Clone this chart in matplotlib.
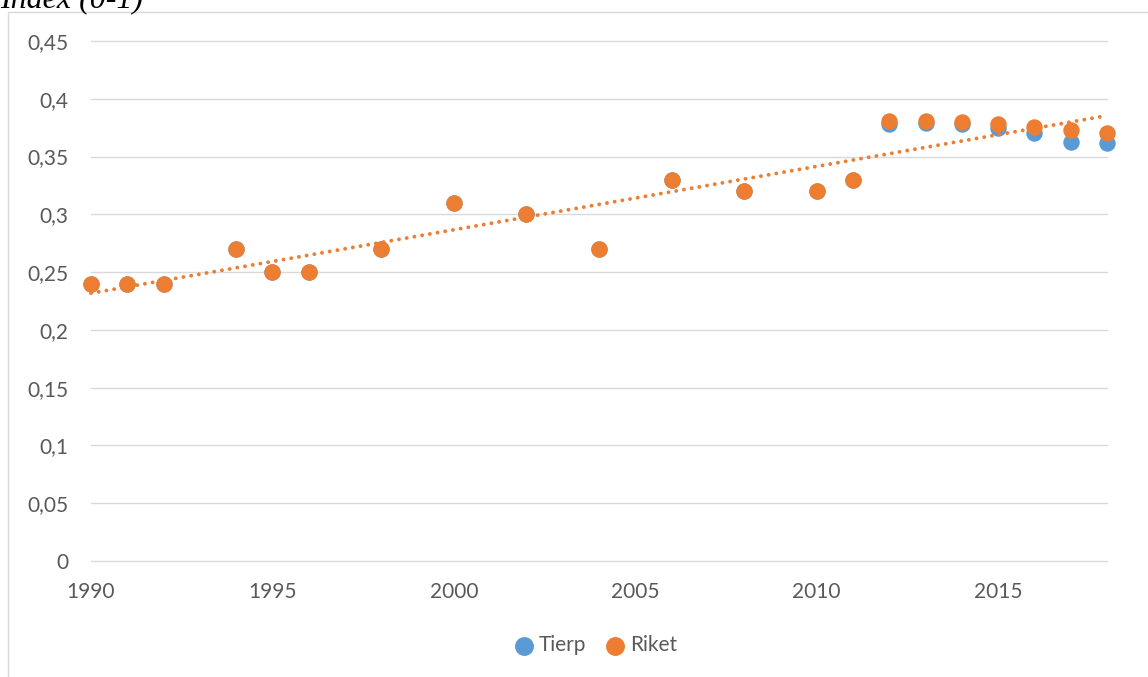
import numpy as np
import matplotlib.pyplot as plt
from matplotlib.patches import Rectangle

plt.rcParams['font.family'] = ['Lato', 'DejaVu Sans']

years = [1990, 1991, 1992, 1994, 1995, 1996, 1998, 2000, 2002, 2004, 2006,
         2008, 2010, 2011, 2012, 2013, 2014, 2015, 2016, 2017, 2018]
riket = [0.24, 0.24, 0.24, 0.27, 0.25, 0.25, 0.27, 0.31, 0.30, 0.27, 0.33,
         0.32, 0.32, 0.33, 0.381, 0.381, 0.380, 0.378, 0.376, 0.373, 0.370]
tierp = [0.24, 0.24, 0.24, 0.27, 0.25, 0.25, 0.27, 0.31, 0.30, 0.27, 0.33,
         0.32, 0.32, 0.33, 0.378, 0.379, 0.378, 0.375, 0.370, 0.363, 0.362]

yticks = [0, 0.05, 0.1, 0.15, 0.2, 0.25, 0.3, 0.35, 0.4, 0.45]
ytick_labels = ['0', '0,05', '0,1', '0,15', '0,2', '0,25', '0,3', '0,35', '0,4', '0,45']
xticks = [1990, 1995, 2000, 2005, 2010, 2015]

blue = '#5B9BD5'
orange = '#ED7D31'
grey = '#595959'

fig = plt.figure(figsize=(11.48, 6.77), dpi=100)
W, H = 1148, 677

# chart frame (cut off on the right and bottom)
fig.patches.append(Rectangle((8 / W, -0.1), 1.2, (H - 12) / H + 0.1,
                             transform=fig.transFigure, fill=False,
                             edgecolor='#D9D9D9', lw=1.0))

ax = fig.add_axes([91 / W, (H - 561) / H, (1107 - 91) / W, (561 - 41) / H])

ax.scatter(years, tierp, s=140, color=blue, zorder=3, label='Tierp',
           linewidths=0, clip_on=False)
ax.scatter(years, riket, s=140, color=orange, zorder=4, label='Riket',
           linewidths=0, clip_on=False)

# linear trend for Riket
k, m = np.polyfit(years, riket, 1)
tx = np.array([1990, 2018])
ax.plot(tx, k * tx + m, color=orange, lw=2.8, linestyle=(0, (0.01, 2.0)),
        dash_capstyle='round', zorder=5, clip_on=False)

ax.set_xlim(1990, 2018)
ax.set_ylim(0, 0.45)
ax.set_yticks(yticks)
ax.set_yticklabels(ytick_labels)
ax.set_xticks(xticks)
ax.grid(axis='y', color='#D9D9D9', lw=1.0)
for gl in ax.get_ygridlines():
    gl.set_clip_on(False)
ax.set_axisbelow(True)
for s in ax.spines.values():
    s.set_visible(False)
ax.tick_params(length=0, colors=grey, labelsize=15)
ax.tick_params(axis='y', pad=16)
ax.tick_params(axis='x', pad=15)

ax.legend(loc='center', bbox_to_anchor=(590 / W, (H - 645) / H),
          bbox_transform=fig.transFigure, ncol=2, frameon=False,
          fontsize=15, labelcolor=grey, handletextpad=-0.3,
          columnspacing=0.4, markerscale=1.15)

fig.text(0, (H - 8) / H, 'Index (0-1)', family='Liberation Serif',
         style='italic', fontsize=23, color='black', va='baseline', ha='left')

fig.savefig('out.png', dpi=100)
